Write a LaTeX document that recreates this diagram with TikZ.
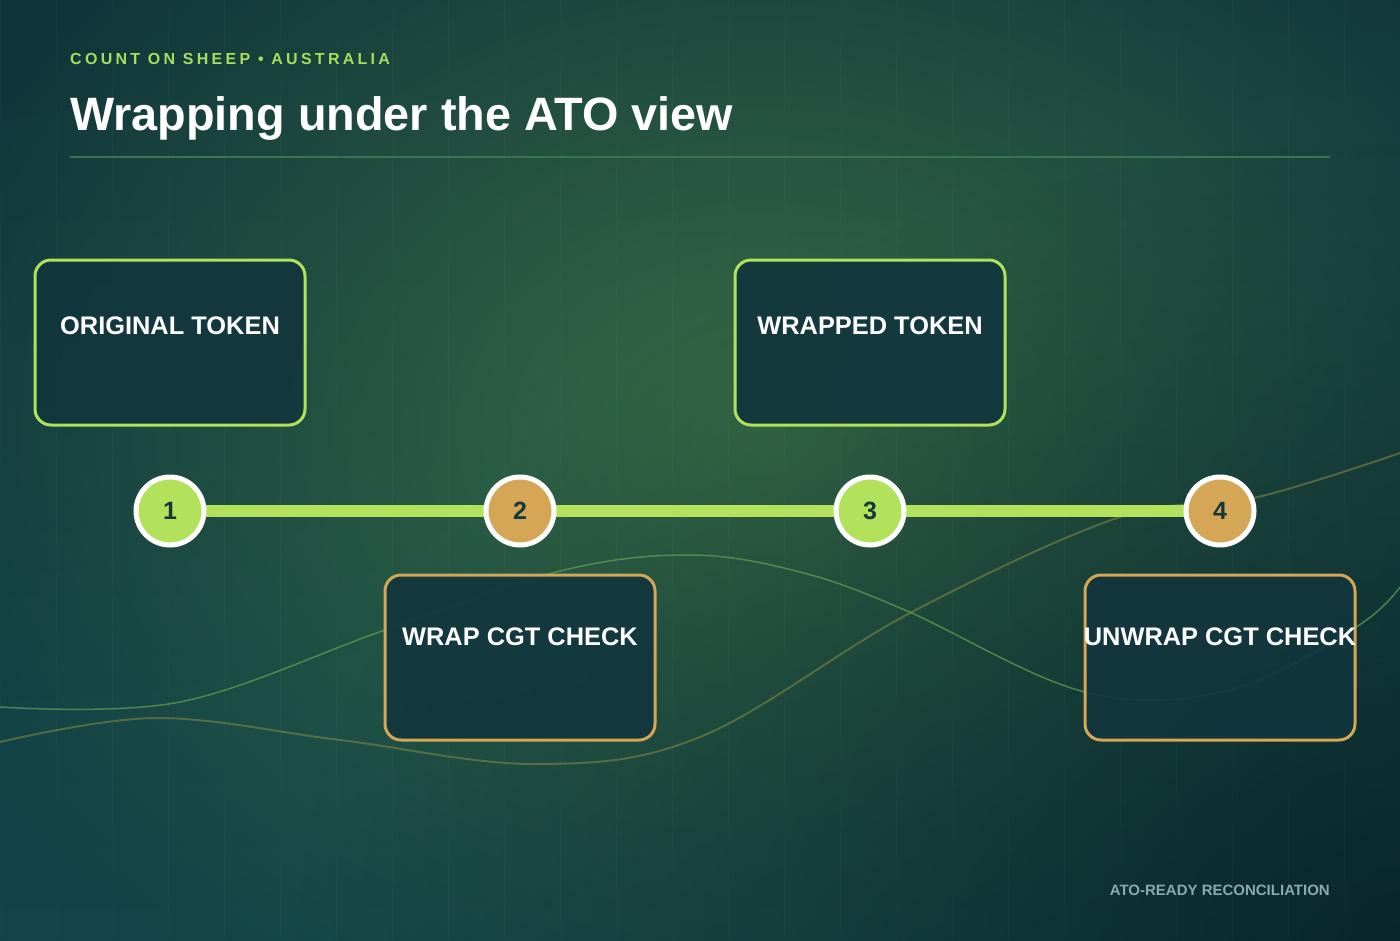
\documentclass[tikz,border=0pt]{standalone}
\usepackage{fontspec}
\setmainfont{Liberation Sans}
\usetikzlibrary{fadings}
\definecolor{bgbase}{HTML}{124449}
\definecolor{bgtop}{HTML}{10353B}
\definecolor{bgdark}{HTML}{081F26}
\definecolor{glow}{HTML}{3A7046}
\definecolor{lime}{HTML}{B2E25C}
\definecolor{gold}{HTML}{D4A656}
\definecolor{boxfill}{HTML}{12363D}
\definecolor{numtext}{HTML}{163838}
\definecolor{kicker}{HTML}{A8DC5A}
\definecolor{foot}{HTML}{8DA9A9}
\definecolor{rulecol}{HTML}{3C7450}
\definecolor{curveA}{HTML}{5E9E52}
\definecolor{curveB}{HTML}{858A45}
\tikzfading[name=radfade, inner color=transparent!0, outer color=transparent!100]
\pgfdeclarelayer{back}
\pgfdeclarelayer{track}
\pgfsetlayers{back,track,main}
\tikzset{
  card/.style={draw=#1, line width=3pt, rounded corners=16pt, fill=boxfill, fill opacity=0.92,
    minimum width=270pt, minimum height=165pt, inner sep=0pt},
  cardtext/.style={text=white, font=\fontsize{25.4}{30}\selectfont\bfseries, inner sep=0pt, anchor=base},
  stepdot/.style={circle, draw=white, line width=5pt, fill=#1, minimum size=68pt, inner sep=0pt,
    text=numtext, font=\fontsize{25}{30}\selectfont\bfseries},
  trackline/.style={draw=lime, line width=12pt},
}
\begin{document}
\begin{tikzpicture}[x=1pt,y=-1pt]
\useasboundingbox (0,0) rectangle (1400,940);
\begin{pgfonlayer}{back}
  \shade[top color=bgtop, bottom color=bgbase] (0,0) rectangle (1400,940);
  \fill[bgtop, opacity=0.6, path fading=radfade] (0,0) ellipse [x radius=1000, y radius=700];
  \fill[glow, opacity=0.9, path fading=radfade] (760,430) ellipse [x radius=880, y radius=680];
  \fill[bgdark, opacity=0.8, path fading=radfade] (1400,940) ellipse [x radius=1100, y radius=800];
  \draw[white, opacity=0.022, line width=1pt, step=56] (0,0) grid (1400,940);
  \draw[curveA, opacity=0.75, line width=1.5pt] plot[smooth, tension=0.6] coordinates
    {(0,707) (180,702) (385,630) (560,571) (690,555) (800,572) (905,610) (1085,692) (1230,690) (1356,627) (1400,587)};
  \draw[curveB, opacity=0.55, line width=2pt] plot[smooth, tension=0.6] coordinates
    {(0,742) (156,718) (340,740) (536,764) (700,737) (910,613) (1120,517) (1254,498) (1400,453)};
\end{pgfonlayer}

\node[anchor=base west, inner sep=0pt, text=kicker,
  font=\fontsize{16}{19}\selectfont\bfseries\addfontfeature{LetterSpace=20.5}] (kick) at (70,64) {COUNT ON SHEEP • AUSTRALIA};
\node[anchor=base west, inner sep=0pt, text=white, font=\fontsize{46.8}{54}\selectfont\bfseries] (title) at (70,130) {Wrapping under the ATO view};
\coordinate (ruleL) at (70,157);
\coordinate (ruleR) at (1330,157);
\draw[rulecol, line width=1.5pt] (ruleL) -- (ruleR);

\node[card=lime] (b1) at (170,342.5) {};
\node[card=lime] (b3) at (870,342.5) {};
\node[card=gold] (b2) at (520,657.5) {};
\node[card=gold] (b4) at (1220,657.5) {};
\node[cardtext] (t1) at (170,334) {ORIGINAL TOKEN};
\node[cardtext] (t3) at (870,334) {WRAPPED TOKEN};
\node[cardtext] (t2) at (520,645) {WRAP CGT CHECK};
\node[cardtext] (t4) at (1220,645) {UNWRAP CGT CHECK};

\node[stepdot=lime] (c1) at (170,511) {1};
\node[stepdot=gold] (c2) at (520,511) {2};
\node[stepdot=lime] (c3) at (870,511) {3};
\node[stepdot=gold] (c4) at (1220,511) {4};
\begin{pgfonlayer}{track}
  \draw[trackline] (c1.center) -- (c2.center);
  \draw[trackline] (c2.center) -- (c3.center);
  \draw[trackline] (c3.center) -- (c4.center);
\end{pgfonlayer}

\node[anchor=base east, inner sep=0pt, text=foot, font=\fontsize{15}{18}\selectfont\bfseries] (footer) at (1330,895) {ATO-READY RECONCILIATION};
\end{tikzpicture}
\end{document}
